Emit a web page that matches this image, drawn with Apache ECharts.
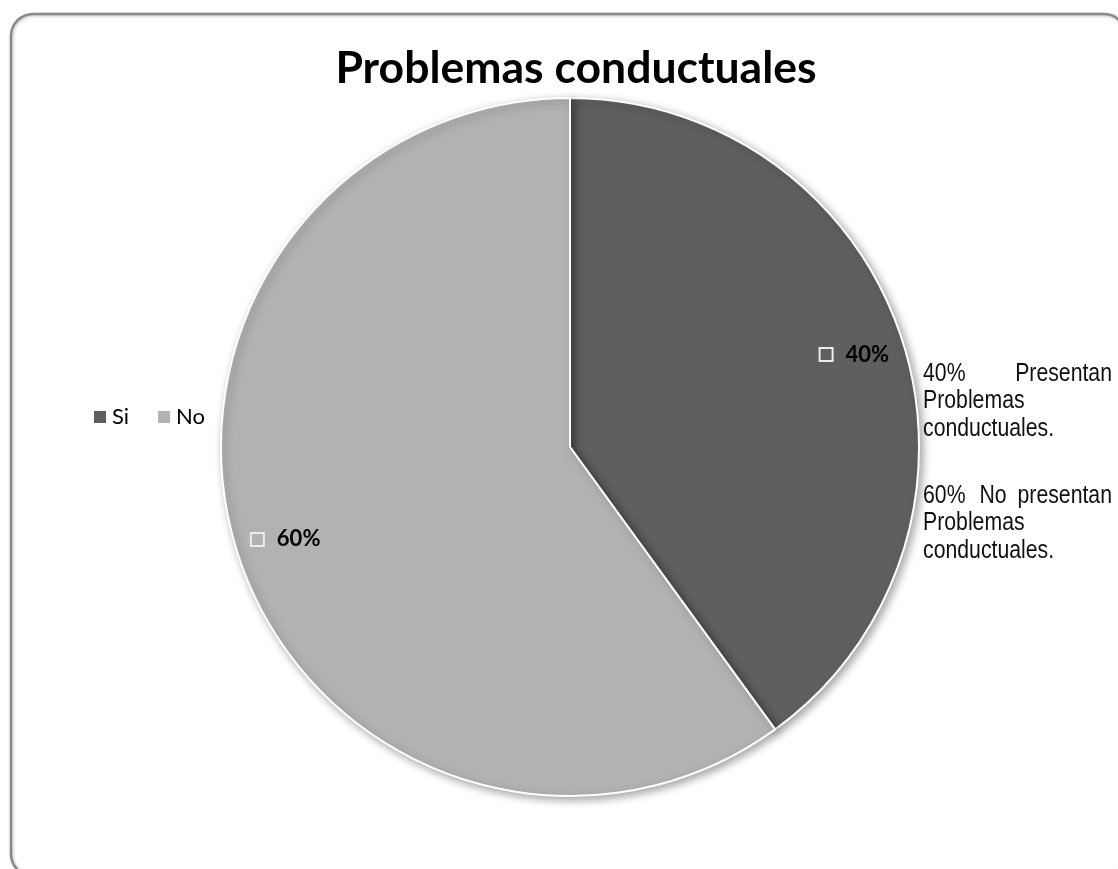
<!DOCTYPE html>
<html>
<head>
<meta charset="utf-8">
<script src="https://cdn.jsdelivr.net/npm/echarts@6/dist/echarts.min.js"></script>
<style>
html,body{margin:0;padding:0;background:#fff;}
#chart{width:1118px;height:869px;}
</style>
</head>
<body>
<div id="chart"></div>
<script>
const titleText = 'Problemas conductuales';
const categories = ['Si', 'No'];
const values = [40, 60];
const sliceColors = ['#5f5f5f', '#b2b2b2'];
const noteLines1 = ['40%', 'Presentan', 'Problemas', 'conductuales.'];
const noteLines2 = ['60%', 'No', 'presentan', 'Problemas', 'conductuales.'];

const data = categories.map((c, i) => ({ name: c, value: values[i], itemStyle: { color: sliceColors[i] } }));
const overlayData = categories.map((c, i) => ({ name: c, value: values[i] }));

const chart = echarts.init(document.getElementById('chart'), null, { renderer: 'canvas' });

const noteFont = { fontFamily: '"Liberation Sans", Arial, sans-serif', fontSize: 25, fill: '#111' };
const nx0 = 923, nx1 = 1112;
function t(text, x, y, align) {
  return { type: 'text', x: x, y: y, scaleX: 0.85, scaleY: 1, silent: true,
    style: Object.assign({ text: text, x: 0, y: 0, align: align, verticalAlign: 'middle' }, noteFont) };
}

const option = {
  backgroundColor: '#fff',
  animation: false,
  title: {
    text: titleText,
    left: 571,
    textAlign: 'center',
    top: 41,
    textStyle: { fontFamily: 'Lato, "Open Sans", sans-serif', fontWeight: 'bold', fontSize: 44.5, color: '#000' }
  },
  legend: {
    data: categories,
    orient: 'horizontal',
    left: 87,
    top: 401,
    icon: 'rect',
    itemWidth: 14,
    itemHeight: 14,
    itemGap: 27,
    selectedMode: false,
    textStyle: { fontFamily: 'Lato, "Open Sans", sans-serif', fontSize: 22, color: '#000' }
  },
  graphic: [
    { type: 'rect', shape: { x: 11, y: 14, width: 1115, height: 862, r: 22 },
      style: { fill: 'none', stroke: '#8a8a8a', lineWidth: 2.5, shadowBlur: 3, shadowColor: 'rgba(0,0,0,0.25)', shadowOffsetX: 1, shadowOffsetY: 1 }, z: -1, silent: true },
    t(noteLines1[0], nx0, 374, 'left'),
    t(noteLines1[1], nx1, 374, 'right'),
    t(noteLines1[2], nx0, 401, 'left'),
    t(noteLines1[3], nx0, 429, 'left'),
    t(noteLines2[0], nx0, 496, 'left'),
    t(noteLines2[1], 993, 496, 'center'),
    t(noteLines2[2], nx1, 496, 'right'),
    t(noteLines2[3], nx0, 523, 'left'),
    t(noteLines2[4], nx0, 551, 'left')
  ],
  series: [
    {
      type: 'pie',
      center: [570, 447],
      radius: 349,
      startAngle: 90,
      clockwise: true,
      data: data,
      label: { show: false },
      labelLine: { show: false },
      itemStyle: { borderColor: '#fff', borderWidth: 2, shadowBlur: 8, shadowOffsetX: 3, shadowOffsetY: 3, shadowColor: 'rgba(0,0,0,0.35)' },
      emphasis: { disabled: true },
      silent: true
    },
    {
      type: 'pie',
      center: [570, 447],
      radius: [243, 349],
      startAngle: 90,
      clockwise: true,
      data: overlayData,
      itemStyle: { color: 'rgba(0,0,0,0)', borderWidth: 0 },
      emphasis: { disabled: true },
      silent: true,
      legendHoverLink: false,
      label: {
        show: true,
        position: 'inside',
        formatter: p => '{box| }{pct|' + p.value + '%}',
        rich: {
          box: { width: 13, height: 13, borderColor: '#ececec', borderWidth: 1, backgroundColor: 'rgba(0,0,0,0)', padding: 0 },
          pct: { fontFamily: 'Lato, "Open Sans", sans-serif', fontWeight: 'bold', fontSize: 22, color: '#000', padding: [0, 0, 0, 13] }
        }
      },
      labelLine: { show: false }
    }
  ]
};
chart.setOption(option);
</script>
</body>
</html>
